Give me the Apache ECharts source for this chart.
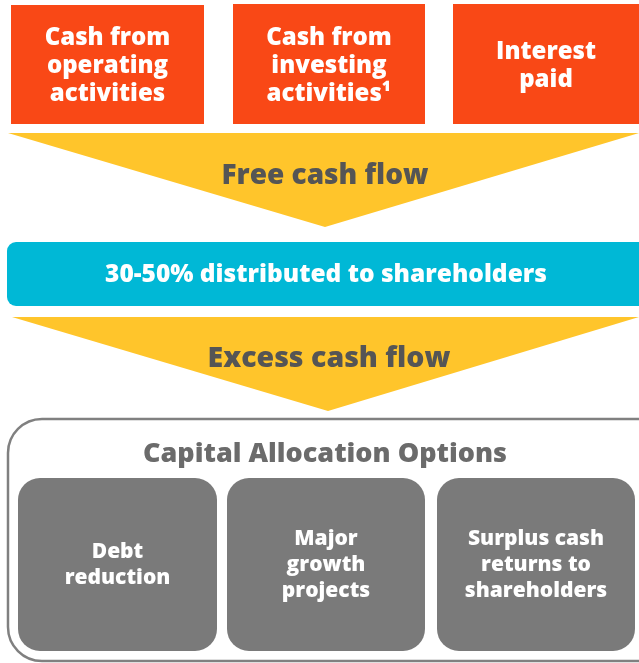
<!DOCTYPE html>
<html><head><meta charset="utf-8">
<script src="https://cdn.jsdelivr.net/npm/echarts@6/dist/echarts.min.js"></script>
<style>html,body{margin:0;padding:0;background:#fff}#c{width:639px;height:663px}</style>
</head><body><div id="c"></div>
<script>
const sourceLabels = ['Cash from\noperating\nactivities', 'Cash from\ninvesting\nactivities¹', 'Interest\npaid'];
const flowLabels = ['Free cash flow', 'Excess cash flow'];
const distributionLabel = '30-50% distributed to shareholders';
const optionsTitle = 'Capital Allocation Options';
const optionLabels = ['Debt\nreduction', 'Major\ngrowth\nprojects', 'Surplus cash\nreturns to\nshareholders'];

const FONT = '"Open Sans", Lato, sans-serif';
const srcBoxes = [[11, 5, 193, 119], [233, 4, 192, 120], [453, 4, 186, 120]];
const optBoxes = [[18, 478, 199, 173], [227, 478, 198, 173], [437, 478, 198, 173]];
const els = [];
sourceLabels.forEach((t, i) => {
  const [x, y, w, h] = srcBoxes[i];
  els.push({type: 'rect', shape: {x, y, width: w, height: h}, style: {fill: '#F94816'}});
  els.push({type: 'text', style: {text: t, x: x + w / 2, y: y + h / 2 + 2, align: 'center', verticalAlign: 'middle',
    fill: '#fff', fontSize: 24, fontWeight: 800, fontFamily: FONT, lineHeight: 28}});
});
els.push({type: 'polygon', shape: {points: [[8, 133], [639, 133], [325, 227]]}, style: {fill: '#FFC52B'}});
els.push({type: 'text', style: {text: flowLabels[0], x: 325, y: 176, align: 'center', verticalAlign: 'middle',
  fill: '#555555', fontSize: 28, fontWeight: 800, fontFamily: FONT}});
els.push({type: 'rect', shape: {x: 7, y: 242, width: 640, height: 64, r: 9}, style: {fill: '#00B8D6'}});
els.push({type: 'text', style: {text: distributionLabel, x: 326, y: 275, align: 'center', verticalAlign: 'middle',
  fill: '#fff', fontSize: 24.5, fontWeight: 800, fontFamily: FONT}});
els.push({type: 'polygon', shape: {points: [[12, 317], [639, 317], [328, 411]]}, style: {fill: '#FFC52B'}});
els.push({type: 'text', style: {text: flowLabels[1], x: 329, y: 359, align: 'center', verticalAlign: 'middle',
  fill: '#555555', fontSize: 28.5, fontWeight: 800, fontFamily: FONT}});
els.push({type: 'rect', shape: {x: 8, y: 419, width: 662, height: 242, r: 34}, style: {fill: 'none', stroke: '#808080', lineWidth: 2.5}});
els.push({type: 'text', style: {text: optionsTitle, x: 325, y: 454, align: 'center', verticalAlign: 'middle',
  fill: '#6B6B6B', fontSize: 27, fontWeight: 800, fontFamily: FONT}});
optionLabels.forEach((t, i) => {
  const [x, y, w, h] = optBoxes[i];
  els.push({type: 'rect', shape: {x, y, width: w, height: h, r: 22}, style: {fill: '#7A7A7A'}});
  els.push({type: 'text', style: {text: t, x: x + w / 2, y: y + h / 2 + 1, align: 'center', verticalAlign: 'middle',
    fill: '#fff', fontSize: 21, fontWeight: 800, fontFamily: FONT, lineHeight: 26}});
});
const chart = echarts.init(document.getElementById('c'), null, {renderer: 'canvas'});
chart.setOption({animation: false, graphic: {elements: els}});
</script></body></html>
